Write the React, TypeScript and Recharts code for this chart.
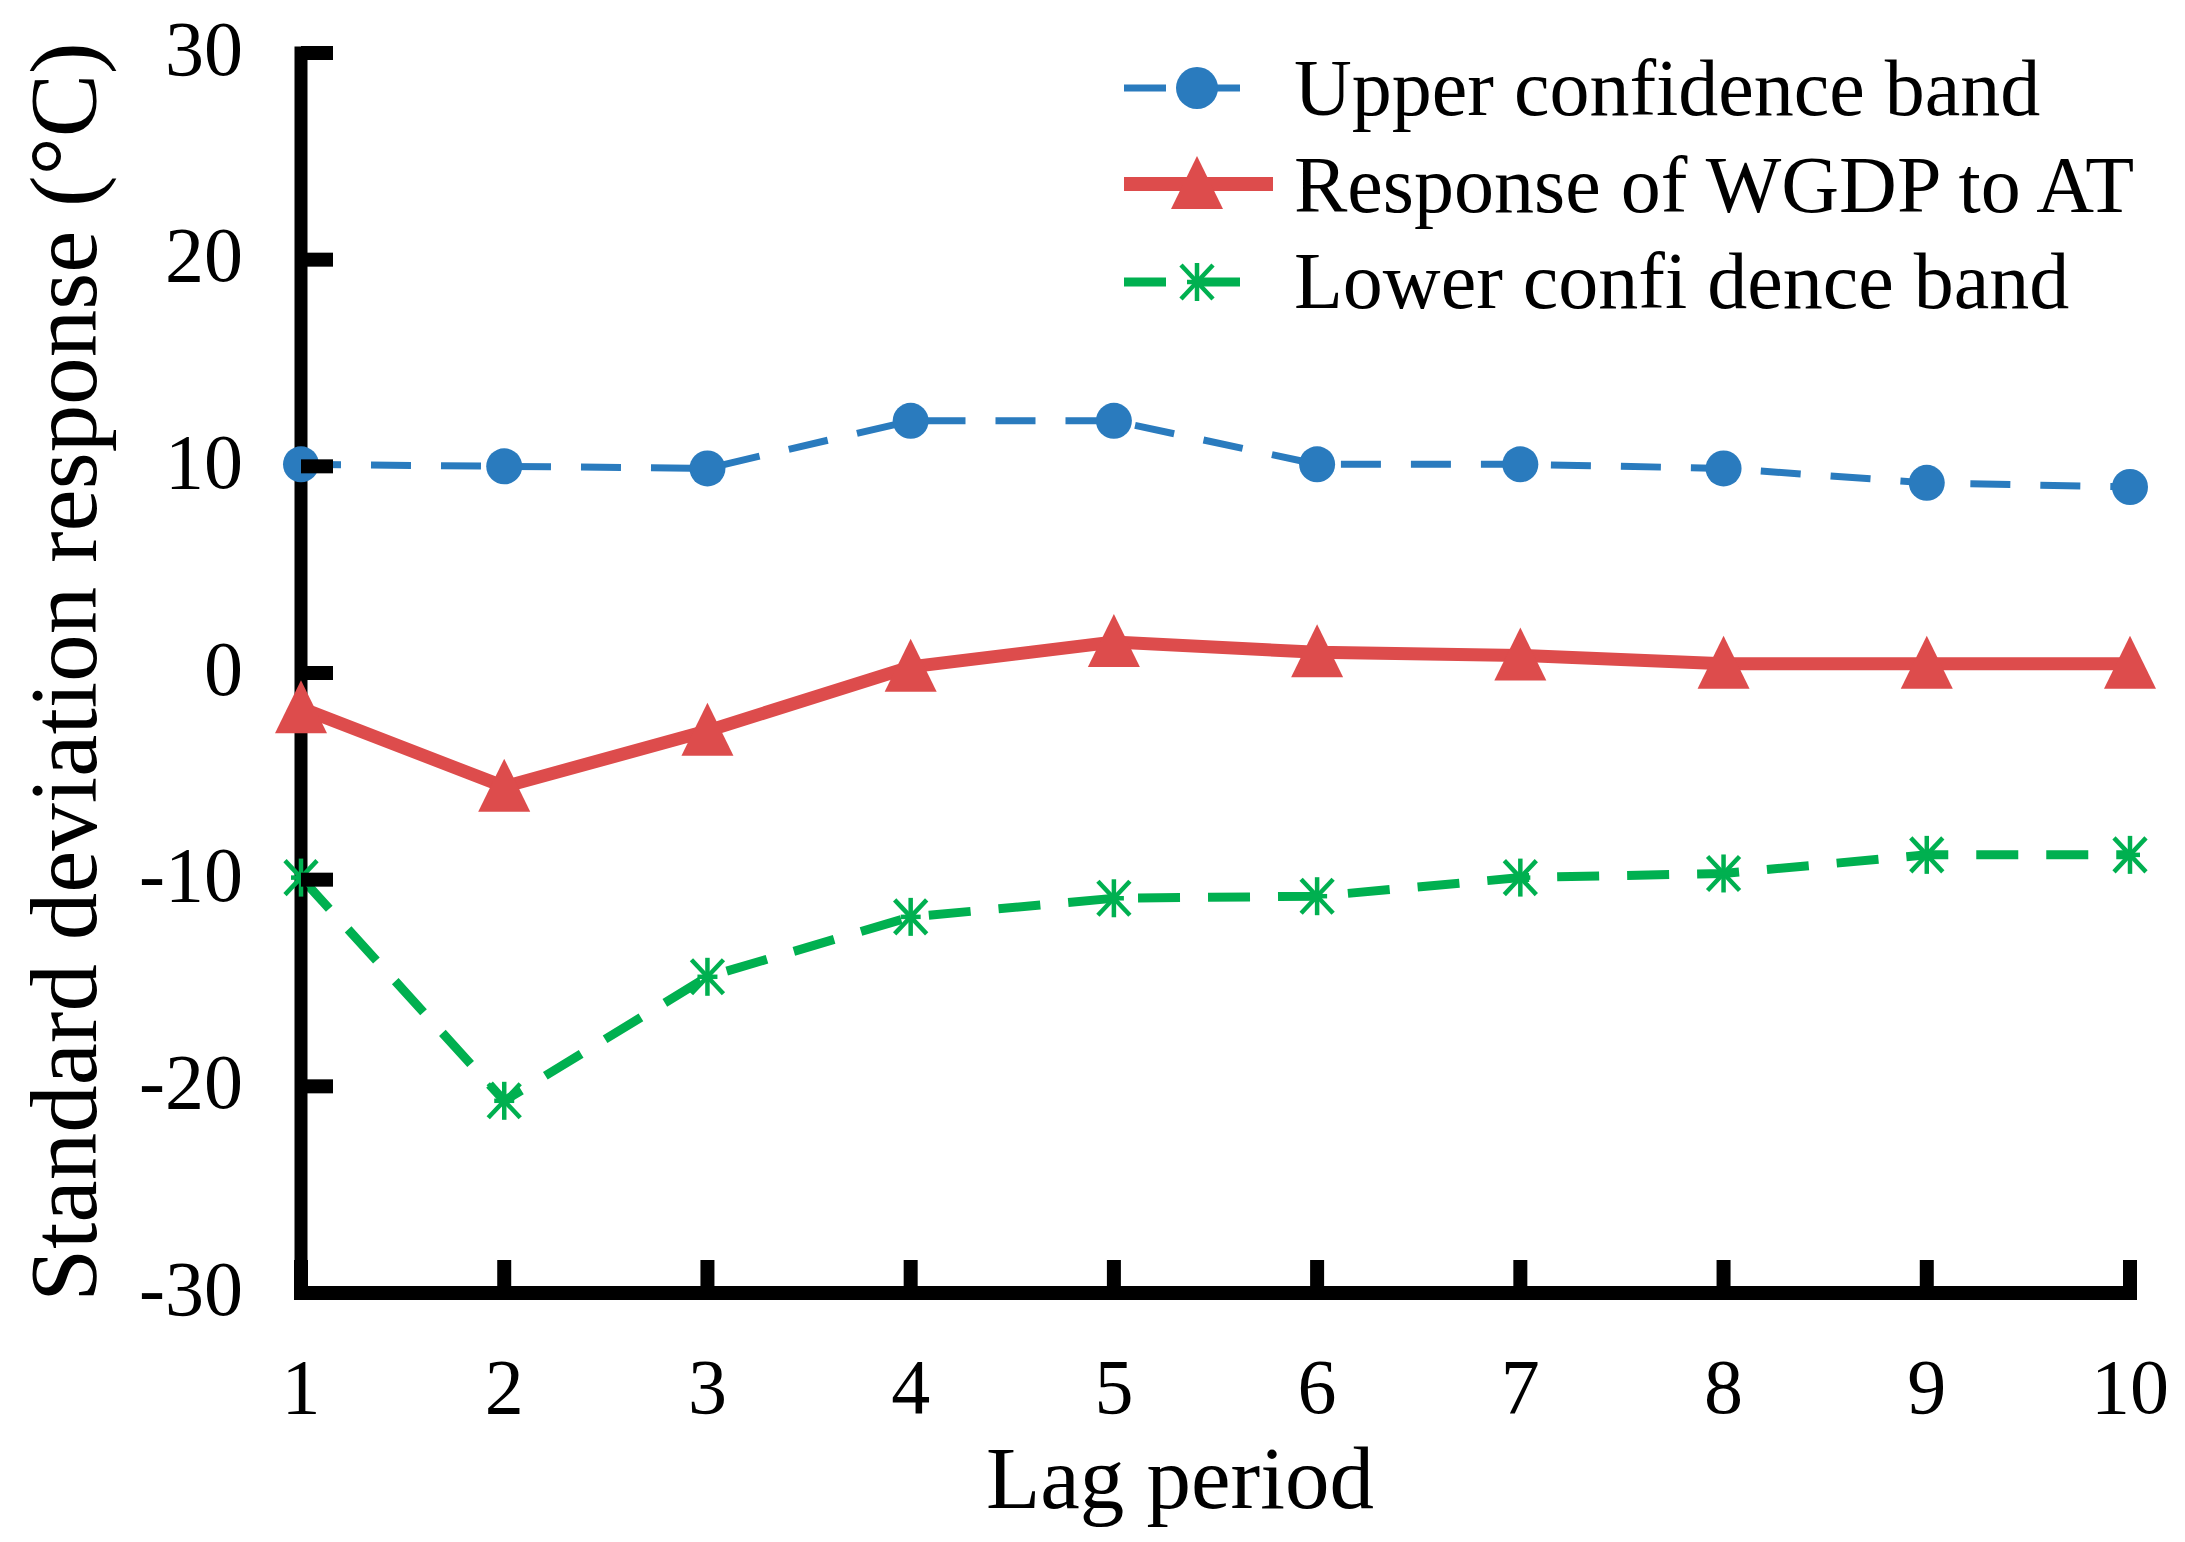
import React from "react";
import { LineChart, Line, XAxis, YAxis, Legend } from "recharts";

const lagPeriods = [1, 2, 3, 4, 5, 6, 7, 8, 9, 10];
const upperBand = [10.1, 10.0, 9.9, 12.2, 12.2, 10.1, 10.1, 9.9, 9.2, 9.0];
const responseValues = [-1.7, -5.5, -2.8, 0.3, 1.5, 1.0, 0.85, 0.45, 0.45, 0.45];
const lowerBand = [-9.9, -20.7, -14.7, -11.8, -10.9, -10.8, -9.9, -9.7, -8.8, -8.8];
const yTicks = [-30, -20, -10, 0, 10, 20, 30];
const xTicks = [1, 2, 3, 4, 5, 6, 7, 8, 9, 10];

const seriesNames = {
  upper: "Upper confidence band",
  response: "Response of WGDP to AT",
  lower: "Lower confi dence band",
};

const BLUE = "#2A7BBE";
const RED = "#DD4C4C";
const GREEN = "#00B050";
const FONT = "'Liberation Serif', 'Times New Roman', serif";

const data = lagPeriods.map((lag, i) => ({
  lag,
  upper: upperBand[i],
  response: responseValues[i],
  lower: lowerBand[i],
}));

const circleDot = (props: any) => {
  const { cx, cy, index } = props;
  return <circle key={`c-${index}`} cx={cx} cy={cy} r={18} fill={BLUE} />;
};

const Triangle = ({ cx, cy }: { cx: number; cy: number }) => (
  <polygon
    points={`${cx},${cy - 28} ${cx - 26},${cy + 25} ${cx + 26},${cy + 25}`}
    fill={RED}
  />
);

const triangleDot = (props: any) => {
  const { cx, cy, index } = props;
  return <Triangle key={`t-${index}`} cx={cx} cy={cy} />;
};

const Asterisk = ({ cx, cy }: { cx: number; cy: number }) => (
  <g stroke={GREEN} strokeWidth={4.5}>
    <line x1={cx} y1={cy - 19} x2={cx} y2={cy + 19} />
    <line x1={cx - 16} y1={cy - 17} x2={cx + 16} y2={cy + 17} />
    <line x1={cx - 16} y1={cy + 17} x2={cx + 16} y2={cy - 17} />
    <line x1={cx - 10} y1={cy} x2={cx + 10} y2={cy} />
  </g>
);

const starDot = (props: any) => {
  const { cx, cy, index } = props;
  return <Asterisk key={`s-${index}`} cx={cx} cy={cy} />;
};

const YTick = (props: any) => {
  const { x, y, payload } = props;
  return (
    <g>
      <line x1={x} x2={x + 32} y1={y} y2={y} stroke="#000" strokeWidth={14} />
      <text
        x={x - 58}
        y={y - 5}
        textAnchor="end"
        dominantBaseline="central"
        fontFamily={FONT}
        fontSize={78}
        fill="#000"
      >
        {payload.value}
      </text>
    </g>
  );
};

const XTick = (props: any) => {
  const { x, y, payload } = props;
  return (
    <g>
      <line x1={x} x2={x} y1={y} y2={y - 33} stroke="#000" strokeWidth={14} />
      <text
        x={x}
        y={y + 120}
        textAnchor="middle"
        fontFamily={FONT}
        fontSize={78}
        fill="#000"
      >
        {payload.value}
      </text>
    </g>
  );
};

const renderLegend = () => {
  const rows = [
    { key: "upper", y: 88, base: 115 },
    { key: "response", y: 184, base: 212 },
    { key: "lower", y: 282, base: 308 },
  ];
  return (
    <svg width={2185} height={340} style={{ display: "block" }}>
      {rows.map((r) => (
        <g key={r.key}>
          {r.key === "upper" && (
            <>
              <line x1={1124} x2={1240} y1={r.y} y2={r.y} stroke={BLUE} strokeWidth={7} strokeDasharray="42 32" />
              <circle cx={1197} cy={r.y} r={21} fill={BLUE} />
            </>
          )}
          {r.key === "response" && (
            <>
              <line x1={1124} x2={1273} y1={r.y} y2={r.y} stroke={RED} strokeWidth={14} />
              <Triangle cx={1197} cy={r.y} />
            </>
          )}
          {r.key === "lower" && (
            <>
              <line x1={1124} x2={1240} y1={r.y} y2={r.y} stroke={GREEN} strokeWidth={9} strokeDasharray="42 32" />
              <Asterisk cx={1197} cy={r.y} />
            </>
          )}
          <text x={1294} y={r.base} fontFamily={FONT} fontSize={80} fill="#000">
            {(seriesNames as any)[r.key]}
          </text>
        </g>
      ))}
    </svg>
  );
};

export default function App() {
  return (
    <div style={{ position: "absolute", left: 0, top: 0, background: "#fff" }}>
      <LineChart
        width={2185}
        height={1542}
        data={data}
        margin={{ top: 53, right: 55, bottom: 99, left: 0 }}
      >
        <XAxis
          dataKey="lag"
          type="number"
          domain={[1, 10]}
          ticks={xTicks}
          interval={0}
          height={150}
          tickSize={0}
          tickMargin={0}
          tickLine={false}
          axisLine={{ stroke: "#000", strokeWidth: 14, strokeLinecap: "square" } as any}
          tick={<XTick />}
          label={{
            content: () => (
              <text x={1180} y={1508} textAnchor="middle" fontFamily={FONT} fontSize={89} fill="#000">
                Lag period
              </text>
            ),
          } as any}
        />
        <YAxis
          type="number"
          domain={[-30, 30]}
          ticks={yTicks}
          interval={0}
          width={301}
          tickSize={0}
          tickMargin={0}
          tickLine={false}
          axisLine={{ stroke: "#000", strokeWidth: 13, strokeLinecap: "square" } as any}
          tick={<YTick />}
          label={{
            content: () => (
              <text
                x={96}
                y={672}
                transform="rotate(-90, 96, 672)"
                textAnchor="middle"
                fontFamily={FONT}
                fontSize={95}
                fill="#000"
              >
                Standard deviation response (°C)
              </text>
            ),
          } as any}
        />
        <Legend
          layout="vertical"
          align="center"
          verticalAlign="middle"
          content={renderLegend}
          wrapperStyle={{ position: "absolute", left: 0, top: 0, width: 2185, height: 340 }}
        />
        <Line
          type="linear"
          dataKey="upper"
          name={seriesNames.upper}
          stroke={BLUE}
          strokeWidth={7}
          strokeDasharray="40 30"
          dot={circleDot}
          activeDot={false}
          isAnimationActive={false}
        />
        <Line
          type="linear"
          dataKey="response"
          name={seriesNames.response}
          stroke={RED}
          strokeWidth={13}
          dot={triangleDot}
          activeDot={false}
          isAnimationActive={false}
        />
        <Line
          type="linear"
          dataKey="lower"
          name={seriesNames.lower}
          stroke={GREEN}
          strokeWidth={9}
          strokeDasharray="42 28"
          dot={starDot}
          activeDot={false}
          isAnimationActive={false}
        />
      </LineChart>
    </div>
  );
}
